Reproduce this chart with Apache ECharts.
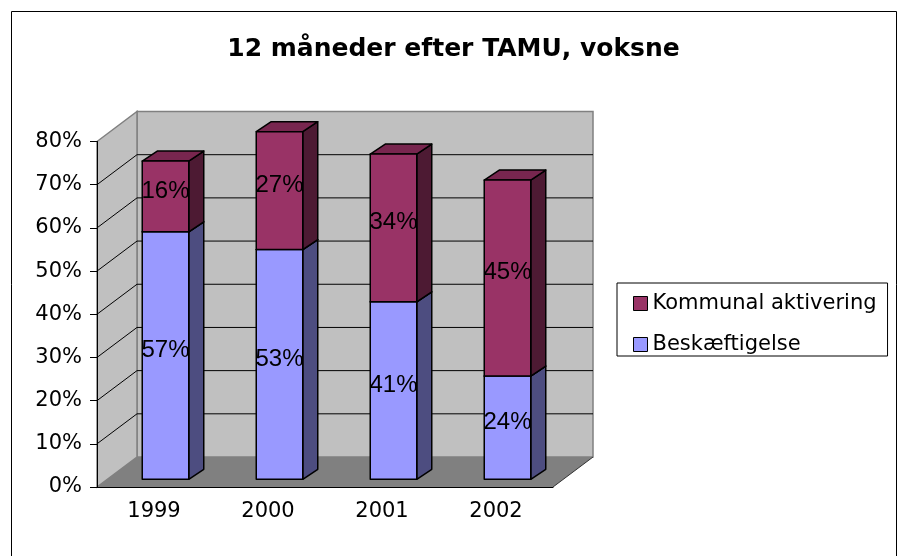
<!DOCTYPE html>
<html>
<head>
<meta charset="utf-8">
<script src="https://cdn.jsdelivr.net/npm/echarts@6/dist/echarts.min.js"></script>
<style>
  html, body { margin: 0; padding: 0; background: #fff; }
  #chart { width: 898px; height: 556px; }
</style>
</head>
<body>
<div id="chart"></div>
<script>
const years = ['1999', '2000', '2001', '2002'];
const beskaeftigelse = [57.3, 53.2, 41.1, 23.9];
const kommunal = [16.4, 27.3, 34.2, 45.4];
const yTicks = [0, 10, 20, 30, 40, 50, 60, 70, 80];

const FONT = '"DejaVu Sans", sans-serif';
// depth of the 3d box (front plane -> back wall)
const WALL = [40, -30];
// bar front plane offset and bar depth
const BAR_FRONT = [11.5, -7.7];
const BAR_DEPTH = [15, -10];

const chart = echarts.init(document.getElementById('chart'));

// walls, floor and gridlines of the 3d box
function renderWalls(params, api) {
  const cs = params.coordSys;
  const l = cs.x, r = cs.x + cs.width;
  const y0 = api.coord([0, 0])[1];
  const yTop = api.coord([0, 80])[1];
  const dx = WALL[0], dy = WALL[1];
  const kids = [];
  // back wall
  kids.push({ type: 'rect', shape: { x: l + dx, y: yTop + dy, width: r - l, height: y0 - yTop },
    style: { fill: '#c0c0c0', stroke: '#808080', lineWidth: 1.5 } });
  // left wall
  kids.push({ type: 'polygon', shape: { points: [[l, y0], [l + dx, y0 + dy], [l + dx, yTop + dy], [l, yTop]] },
    style: { fill: '#c0c0c0', stroke: '#808080', lineWidth: 1.5 } });
  // gridlines
  yTicks.forEach(function (v) {
    if (v === 0 || v === 80) return;
    const yy = api.coord([0, v])[1];
    kids.push({ type: 'line', shape: { x1: l + dx, y1: yy + dy, x2: r + dx, y2: yy + dy },
      style: { stroke: '#000', lineWidth: 1 } });
    kids.push({ type: 'line', shape: { x1: l, y1: yy, x2: l + dx, y2: yy + dy },
      style: { stroke: '#000', lineWidth: 1 } });
  });
  // floor
  kids.push({ type: 'polygon', shape: { points: [[l, y0], [r, y0], [r + dx, y0 + dy], [l + dx, y0 + dy]] },
    style: { fill: '#808080' } });
  kids.push({ type: 'line', shape: { x1: r, y1: y0, x2: r + dx, y2: y0 + dy },
    style: { stroke: '#333', lineWidth: 1 } });
  return { type: 'group', children: kids };
}

function barRenderer(base, front, side, top) {
  return function (params, api) {
    const i = api.value(0);
    const v = api.value(1);
    const b = base ? base[i] : 0;
    const bw = api.size([1, 0])[0] * 0.408;
    const p0 = api.coord([i, b]);
    const p1 = api.coord([i, b + v]);
    const xl = p0[0] + BAR_FRONT[0] - bw / 2, xr = xl + bw;
    const yb = p0[1] + BAR_FRONT[1], yt = p1[1] + BAR_FRONT[1];
    const dx = BAR_DEPTH[0], dy = BAR_DEPTH[1];
    const edge = { stroke: '#000', lineWidth: 1.5, lineJoin: 'round' };
    return {
      type: 'group',
      children: [
        { type: 'polygon', shape: { points: [[xr, yb], [xr + dx, yb + dy], [xr + dx, yt + dy], [xr, yt]] },
          style: Object.assign({ fill: side }, edge) },
        { type: 'polygon', shape: { points: [[xl, yt], [xr, yt], [xr + dx, yt + dy], [xl + dx, yt + dy]] },
          style: Object.assign({ fill: top }, edge) },
        { type: 'rect', shape: { x: xl, y: yt, width: bw, height: yb - yt },
          style: Object.assign({ fill: front }, edge) },
        { type: 'text', z2: 10,
          style: { text: Math.round(v) + '%', x: (xl + xr) / 2, y: (yb + yt) / 2 - 5.5,
            align: 'center', verticalAlign: 'middle',
            fontFamily: 'Liberation Sans, Arial, sans-serif', fontSize: 24, fill: '#000' } }
      ]
    };
  };
}

const option = {
  animation: false,
  backgroundColor: '#fff',
  graphic: [
    { type: 'rect', shape: { x: 11.5, y: 11.5, width: 885, height: 570 },
      style: { fill: 'none', stroke: '#000', lineWidth: 1 }, z: -10 },
    { type: 'text', x: 453.5, y: 49,
      style: { text: '12 måneder efter TAMU, voksne', align: 'center', verticalAlign: 'middle',
        fontFamily: FONT, fontSize: 25, fontWeight: 'bold', fill: '#000' } }
  ],
  legend: {
    orient: 'vertical',
    left: 617,
    top: 283,
    padding: [10, 11, 1, 16],
    itemGap: 20,
    itemWidth: 14,
    itemHeight: 14,
    icon: 'rect',
    borderColor: '#000',
    borderWidth: 1,
    backgroundColor: '#fff',
    itemStyle: { borderColor: '#000', borderWidth: 1 },
    textStyle: { fontFamily: FONT, fontSize: 21, color: '#000', lineHeight: 21, padding: [0, 0, 0, 0] },
    data: ['Kommunal aktivering', 'Beskæftigelse']
  },
  grid: { left: 97, top: 141.5, width: 456, height: 345.5 },
  xAxis: {
    type: 'category',
    data: years,
    axisLine: { lineStyle: { color: '#000', width: 1 } },
    axisTick: { length: 7, lineStyle: { color: '#000' } },
    axisLabel: { margin: 14, fontFamily: FONT, fontSize: 21, color: '#000' }
  },
  yAxis: {
    type: 'value',
    min: 0,
    max: 80,
    interval: 10,
    axisLine: { show: true, lineStyle: { color: '#000', width: 1 } },
    axisTick: { show: true, length: 7, lineStyle: { color: '#000' } },
    splitLine: { show: false },
    axisLabel: { margin: 15, fontFamily: FONT, fontSize: 21, color: '#000', formatter: '{value}%' }
  },
  series: [
    {
      name: 'walls',
      type: 'custom',
      z: -1,
      silent: true,
      renderItem: renderWalls,
      data: [[0, 0]],
      encode: { x: 0, y: 1 }
    },
    {
      name: 'Beskæftigelse',
      type: 'custom',
      itemStyle: { color: '#9999ff' },
      renderItem: barRenderer(null, '#9999ff', '#4d4d80', '#7a7acc'),
      data: beskaeftigelse.map(function (v, i) { return [i, v]; }),
      encode: { x: 0, y: 1 }
    },
    {
      name: 'Kommunal aktivering',
      type: 'custom',
      itemStyle: { color: '#993366' },
      renderItem: barRenderer(beskaeftigelse, '#993366', '#4d1a33', '#78264f'),
      data: kommunal.map(function (v, i) { return [i, v]; }),
      encode: { x: 0, y: 1 }
    }
  ]
};

chart.setOption(option);
</script>
</body>
</html>
